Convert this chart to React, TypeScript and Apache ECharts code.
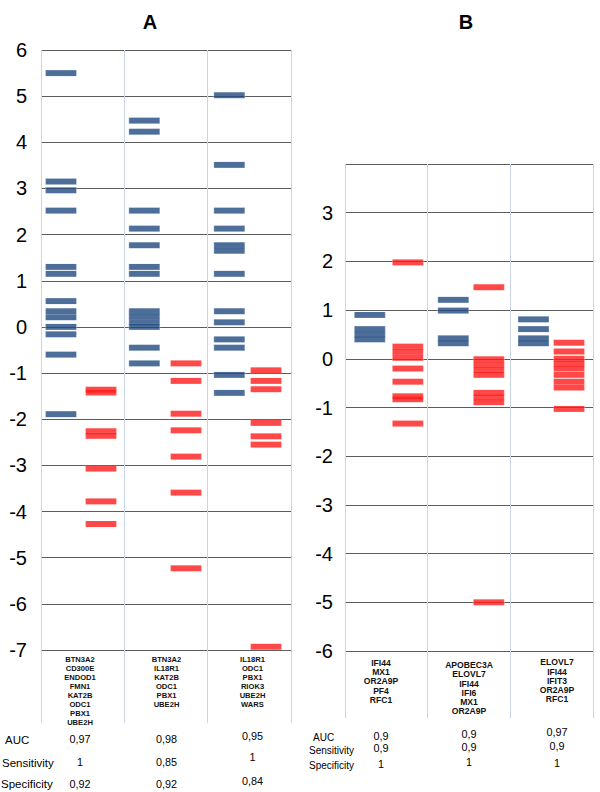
import React, { useEffect, useRef } from "react";
import * as echarts from "echarts";

// ---------- data ----------
const blueA: number[][] = [
  [5.5, 3.15, 2.96, 2.52, 1.3, 1.15, 0.56, 0.34, 0.21, 0.0, -0.16, -0.6, -1.89],
  [4.47, 4.23, 2.52, 2.13, 1.77, 1.3, 1.15, 0.34, 0.22, 0.1, 0.0, -0.45, -0.79],
  [5.02, 3.51, 2.52, 2.13, 1.77, 1.65, 1.15, 0.34, 0.1, -0.27, -0.45, -1.04, -1.43],
];
const redA: number[][] = [
  [-1.36, -1.42, -2.26, -2.36, -3.07, -3.78, -4.27],
  [-0.79, -1.17, -1.88, -2.24, -2.81, -3.59, -5.23],
  [-0.94, -1.17, -1.35, -2.08, -2.37, -2.55, -6.93],
];
const blueB: number[][] = [
  [0.9, 0.61, 0.5, 0.4],
  [1.21, 0.99, 0.42, 0.32],
  [0.81, 0.61, 0.42, 0.32],
];
const redB: number[][] = [
  [1.98, 0.25, 0.14, 0.02, -0.2, -0.47, -0.77, -0.83, -1.33],
  [1.47, -0.01, -0.12, -0.23, -0.33, -0.7, -0.79, -0.89, -5.0],
  [0.33, 0.15, 0.0, -0.1, -0.2, -0.33, -0.47, -0.59, -1.03],
];

const genesA: string[][] = [
  ["BTN3A2", "CD300E", "ENDOD1", "FMN1", "KAT2B", "ODC1", "PBX1", "UBE2H"],
  ["BTN3A2", "IL18R1", "KAT2B", "ODC1", "PBX1", "UBE2H"],
  ["IL18R1", "ODC1", "PBX1", "RIOK3", "UBE2H", "WARS"],
];
const genesB: string[][] = [
  ["IFI44", "MX1", "OR2A9P", "PF4", "RFC1"],
  ["APOBEC3A", "ELOVL7", "IFI44", "IFI6", "MX1", "OR2A9P"],
  ["ELOVL7", "IFI44", "IFIT3", "OR2A9P", "RFC1"],
];

const rowLabels = ["AUC", "Sensitivity", "Specificity"];
const aucA = ["0,97", "0,98", "0,95"];
const sensA = ["1", "0,85", "1"];
const specA = ["0,92", "0,92", "0,84"];
const aucB = ["0,9", "0,9", "0,97"];
const sensB = ["0,9", "0,9", "0,9"];
const specB = ["1", "1", "1"];

const yTicksA = { min: -7, max: 6 };
const yTicksB = { min: -6, max: 4 };

// ---------- styles / layout ----------
const BLUE = "#1f4a80";
const RED = "#ff1a1a";
const GRID_LINE = "#5c5c5c";
const SEP_LINE = "#c9d5e6";
const FONT = 'Arial, "Liberation Sans", Helvetica, sans-serif';

const toPoints = (cols: number[][], offsets: number[]) =>
  cols.flatMap((vals, i) => vals.map((v) => [i + offsets[i], v]));

export default function App() {
  const ref = useRef<HTMLDivElement>(null);

  useEffect(() => {
    if (!ref.current) return;
    const chart = echarts.init(ref.current, undefined, { renderer: "svg" });

    const barStyle = (color: string) => ({
      color,
      borderColor: "rgba(255,255,255,0.35)",
      borderWidth: 0.5,
    });

    const valueX = (gridIndex: number) => ({
      type: "value" as const,
      gridIndex,
      min: 0,
      max: 3,
      interval: 1,
      axisLine: { show: false },
      axisTick: { show: false },
      axisLabel: { show: false },
      splitLine: { show: true, lineStyle: { color: SEP_LINE, width: 1 } },
    });

    const yAxisMain = (gridIndex: number, mm: { min: number; max: number }, margin: number, hideTop: boolean) => ({
      type: "value" as const,
      gridIndex,
      min: mm.min,
      max: mm.max,
      interval: 1,
      axisLine: { show: false },
      axisTick: { show: false },
      axisLabel: {
        show: true,
        fontSize: 20,
        color: "#000",
        fontFamily: FONT,
        margin,
        formatter: (v: number) => (hideTop && v === mm.max ? "" : String(v)),
      },
      splitLine: { show: true, lineStyle: { color: GRID_LINE, width: 1 } },
    });

    const hiddenY = (gridIndex: number) => ({
      type: "value" as const,
      gridIndex,
      min: 0,
      max: 1,
      show: false,
      splitLine: { show: false },
    });

    // column centres for text (layout)
    const colXA = [80, 166.5, 252.5];
    const colXB = [381, 469, 557];

    const graphics: any[] = [];
    graphics.push({
      type: "text",
      x: 150,
      y: 22,
      style: { text: "A", fontSize: 20, fontWeight: "bold", fontFamily: FONT, fill: "#000", align: "center", verticalAlign: "middle" },
    });
    graphics.push({
      type: "text",
      x: 466,
      y: 22,
      style: { text: "B", fontSize: 20, fontWeight: "bold", fontFamily: FONT, fill: "#000", align: "center", verticalAlign: "middle" },
    });

    genesA.forEach((g, i) =>
      graphics.push({
        type: "text",
        x: colXA[i],
        y: 655.5,
        style: {
          text: g.join("\n"),
          fontSize: 7.6,
          fontWeight: "bold",
          fontFamily: FONT,
          fill: "#111",
          align: "center",
          verticalAlign: "top",
          lineHeight: 8.9,
        },
      })
    );
    const genesBTop = [658, 660.3, 657.6];
    genesB.forEach((g, i) =>
      graphics.push({
        type: "text",
        x: colXB[i],
        y: genesBTop[i],
        style: {
          text: g.join("\n"),
          fontSize: 8.6,
          fontWeight: "bold",
          fontFamily: FONT,
          fill: "#111",
          align: "center",
          verticalAlign: "top",
          lineHeight: 9.3,
        },
      })
    );

    // table A
    const rowYA = [740, 763, 784];
    const rowXA = [5, 2, 1];
    rowLabels.forEach((t, r) =>
      graphics.push({
        type: "text",
        x: rowXA[r],
        y: rowYA[r],
        style: { text: t, fontSize: 11.5, fontFamily: FONT, fill: "#000", align: "left", verticalAlign: "middle" },
      })
    );
    const valYA = [
      [739, 762, 784],
      [739, 762, 784],
      [736, 757, 781],
    ];
    [aucA, sensA, specA].forEach((row, r) =>
      row.forEach((t, c) =>
        graphics.push({
          type: "text",
          x: colXA[c],
          y: valYA[c][r],
          style: { text: t, fontSize: 10.8, fontFamily: FONT, fill: "#000", align: "center", verticalAlign: "middle" },
        })
      )
    );

    // table B
    const rowYB = [737.7, 750, 765.5];
    const rowXB = [313, 309, 309];
    rowLabels.forEach((t, r) =>
      graphics.push({
        type: "text",
        x: rowXB[r],
        y: rowYB[r],
        style: { text: t, fontSize: 10, fontFamily: FONT, fill: "#000", align: "left", verticalAlign: "middle" },
      })
    );
    const valYB = [
      [735.7, 748.3, 764.3],
      [734.3, 746.7, 762.3],
      [732.3, 746, 762.7],
    ];
    [aucB, sensB, specB].forEach((row, r) =>
      row.forEach((t, c) =>
        graphics.push({
          type: "text",
          x: colXB[c],
          y: valYB[c][r],
          style: { text: t, fontSize: 10.8, fontFamily: FONT, fill: "#000", align: "center", verticalAlign: "middle" },
        })
      )
    );

    const sym = { symbol: "rect", symbolSize: [31, 6] };

    chart.setOption({
      animation: false,
      grid: [
        { left: 41, width: 250, top: 50, height: 600 },
        { left: 41, width: 250, top: 650, height: 73 },
        { left: 345, width: 248, top: 164, height: 487 },
        { left: 345, width: 248, top: 651, height: 67 },
      ],
      xAxis: [valueX(0), valueX(1), valueX(2), valueX(3)],
      yAxis: [
        yAxisMain(0, yTicksA, 14, false),
        hiddenY(1),
        yAxisMain(2, yTicksB, 12, true),
        hiddenY(3),
      ],
      series: [
        {
          type: "scatter",
          xAxisIndex: 0,
          yAxisIndex: 0,
          ...sym,
          itemStyle: barStyle(BLUE),
          data: toPoints(blueA, [0.24, 0.24, 0.26]),
        },
        {
          type: "scatter",
          xAxisIndex: 0,
          yAxisIndex: 0,
          ...sym,
          itemStyle: barStyle(RED),
          data: toPoints(redA, [0.72, 0.74, 0.7]),
        },
        {
          type: "scatter",
          xAxisIndex: 2,
          yAxisIndex: 2,
          ...sym,
          itemStyle: barStyle(BLUE),
          data: toPoints(blueB, [0.3, 0.31, 0.28]),
        },
        {
          type: "scatter",
          xAxisIndex: 2,
          yAxisIndex: 2,
          ...sym,
          itemStyle: barStyle(RED),
          data: toPoints(redB, [0.76, 0.74, 0.71]),
        },
        { type: "scatter", xAxisIndex: 1, yAxisIndex: 1, data: [] },
        { type: "scatter", xAxisIndex: 3, yAxisIndex: 3, data: [] },
      ],
      graphic: graphics,
    });

    return () => chart.dispose();
  }, []);

  return (
    <div
      ref={ref}
      style={{ position: "fixed", left: 0, top: 0, width: 600, height: 792, background: "#fff" }}
    />
  );
}
